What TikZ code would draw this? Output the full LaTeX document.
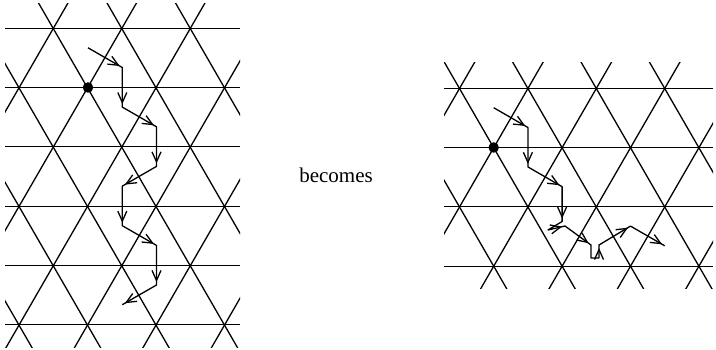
\documentclass[tikz,border=0pt]{standalone}
\usepackage{fontspec}
\setmainfont{Liberation Serif}
\usetikzlibrary{arrows.meta,decorations.markings}

\begin{document}
\begin{tikzpicture}[x=1pt, y=-1pt, line width=1.3pt]
    \tikzset{lat/.style={draw=black},
      walk/.style={draw=black, line join=round},
      hop/.style={postaction={decorate}, decoration={markings, mark=at position -3pt with {\arrow{Straight Barb[length=10pt,width=9pt]}}}},
      site/.style={circle, fill=black, inner sep=0pt, minimum size=10.5pt}}
    \useasboundingbox (0,0) rectangle (716,350);
    \begin{scope}
      \clip (5,4) rectangle (240,347);
      \foreach \y in {28.5,87.5,146.5,206.5,265.5,324.5} \draw[lat] (5,\y) -- (240,\y);
      \foreach \k in {-4,...,6} {
        \draw[lat] (53.25+68.5*\k-200,28.5-346.4) -- (53.25+68.5*\k+200,28.5+346.4);
        \draw[lat] (53.25+68.5*\k+200,28.5-346.4) -- (53.25+68.5*\k-200,28.5+346.4);
      }
    \end{scope}
    \begin{scope}
      \clip (444,63) rectangle (713,289);
      \foreach \y in {88.5,147.5,206.5,266.5} \draw[lat] (444,\y) -- (713,\y);
      \foreach \k in {-4,...,5} {
        \draw[lat] (459.5+68.4*\k-200,88.5-346.4) -- (459.5+68.4*\k+200,88.5+346.4);
        \draw[lat] (459.5+68.4*\k+200,88.5-346.4) -- (459.5+68.4*\k-200,88.5+346.4);
      }
    \end{scope}
    \node[site] (o) at (88,87.5) {};
    \node[site] (p) at (493.7,147.5) {};
    \node[font=\fontsize{21}{25}\selectfont, anchor=base] (lbl) at (336,183) {becomes};
    \coordinate (w0) at (88,47.8);
    \coordinate (w1) at (122.3,67.5);
    \coordinate (w2) at (122.3,107.1);
    \coordinate (w3) at (156.5,126.8);
    \coordinate (w4) at (156.5,166.4);
    \coordinate (w5) at (122.3,186.1);
    \coordinate (w6) at (122.3,225.7);
    \coordinate (w7) at (156.5,245.4);
    \coordinate (w8) at (156.5,285);
    \coordinate (w9) at (122.3,304.7);
    \coordinate (r0) at (493.7,107.7);
    \coordinate (r1) at (527.9,127.5);
    \coordinate (r2) at (527.9,166.9);
    \coordinate (r3) at (562.1,186.7);
    \coordinate (r4) at (562.1,221.5);
    \coordinate (r5) at (548,230);
    \coordinate (r6) at (565,226);
    \coordinate (r7) at (591,245);
    \coordinate (r8) at (591,258);
    \coordinate (r9) at (599,258);
    \coordinate (r10) at (599,245);
    \coordinate (r11) at (630.5,226.1);
    \coordinate (r12) at (664.7,245.8);
    \path[walk] (w0) -- (w1) -- (w2) -- (w3) -- (w4) -- (w5) -- (w6) -- (w7) -- (w8) -- (w9);
    \path[walk] (r0) -- (r1) -- (r2) -- (r3) -- (r4) -- (r5) -- (r6) -- (r7) -- (r8) -- (r9) -- (r10) -- (r11) -- (r12);
    \foreach \a/\b in {w0/w1, w1/w2, w2/w3, w3/w4, w4/w5, w5/w6, w6/w7, w7/w8, w8/w9,
                       r0/r1, r1/r2, r2/r3, r3/r4, r5/r6, r6/r7, r9/r10, r10/r11, r11/r12}
      \path[hop] (\a) -- (\b);
\end{tikzpicture}
\end{document}
